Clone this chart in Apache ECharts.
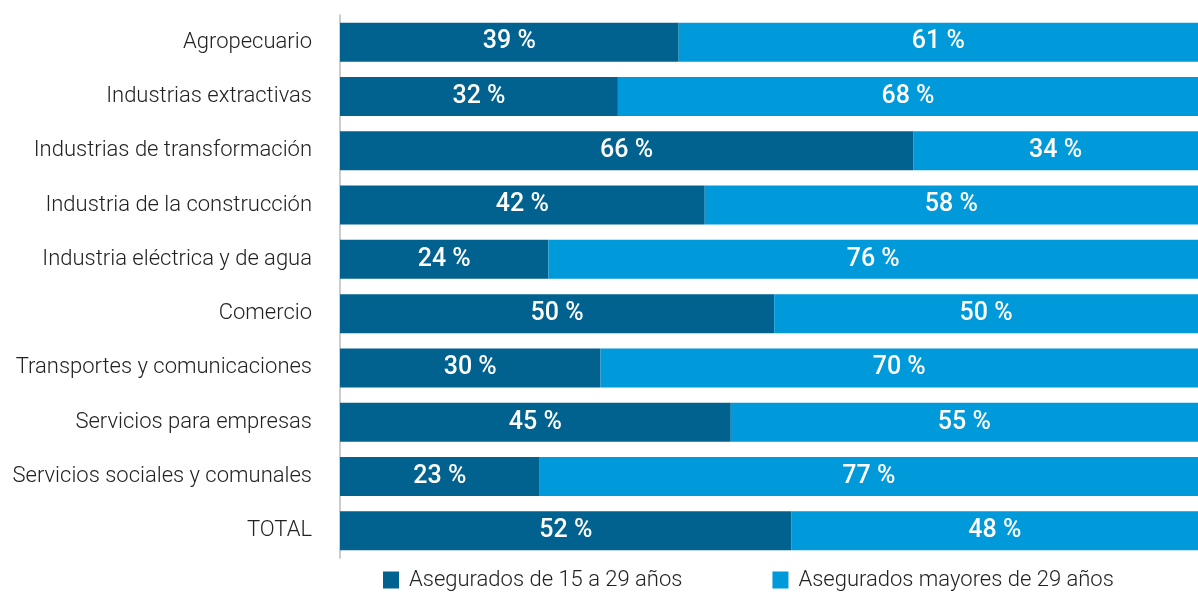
<!DOCTYPE html>
<html>
<head>
<meta charset="utf-8">
<script src="https://cdn.jsdelivr.net/npm/echarts@6/dist/echarts.min.js"></script>
<style>
  html, body { margin: 0; padding: 0; background: #fff; }
  #chart { width: 1198px; height: 592px; }
</style>
</head>
<body>
<div id="chart"></div>
<script>
const categories = [
  'Agropecuario',
  'Industrias extractivas',
  'Industrias de transformación',
  'Industria de la construcción',
  'Industria eléctrica y de agua',
  'Comercio',
  'Transportes y comunicaciones',
  'Servicios para empresas',
  'Servicios sociales y comunales',
  'TOTAL'
]
const jovenes = [39, 32, 66, 42, 24, 50, 30, 45, 23, 52]
const mayores = [61, 68, 34, 58, 76, 50, 70, 55, 77, 48]
const seriesNames = ['Asegurados de 15 a 29 años', 'Asegurados mayores de 29 años']

const chart = echarts.init(document.getElementById('chart'))

// bars run past the right edge in the original, so the visible axis stops short of 100
const barLabel = {
  show: true,
  position: 'inside',
  color: '#fff',
  fontFamily: 'Roboto',
  fontWeight: 500,
  fontSize: 25,
  formatter: (p) => p.value + ' %'
}

chart.setOption({
  animation: false,
  textStyle: { fontFamily: 'Roboto' },
  grid: { left: 340, right: 0, top: 15, bottom: 34, containLabel: false },
  legend: {
    left: 378,
    top: 564,
    itemWidth: 16,
    itemHeight: 17,
    itemGap: 90,
    icon: 'rect',
    textStyle: { fontSize: 22, color: '#222', fontWeight: 300, padding: [0, 0, 0, 5] },
    data: seriesNames
  },
  xAxis: {
    type: 'value',
    min: 0,
    max: 98.8,
    show: false
  },
  yAxis: {
    type: 'category',
    inverse: true,
    data: categories,
    axisLine: { lineStyle: { color: '#bbbbbb', width: 1.5 } },
    axisTick: { show: false },
    axisLabel: { fontSize: 22, color: '#222', fontWeight: 300, margin: 28 }
  },
  series: [
    {
      name: seriesNames[0],
      type: 'bar',
      stack: 'total',
      barWidth: 39,
      data: jovenes,
      itemStyle: { color: '#01628f' },
      label: barLabel
    },
    {
      name: seriesNames[1],
      type: 'bar',
      stack: 'total',
      barWidth: 39,
      data: mayores,
      itemStyle: { color: '#0099da' },
      label: barLabel
    }
  ]
})
</script>
</body>
</html>
